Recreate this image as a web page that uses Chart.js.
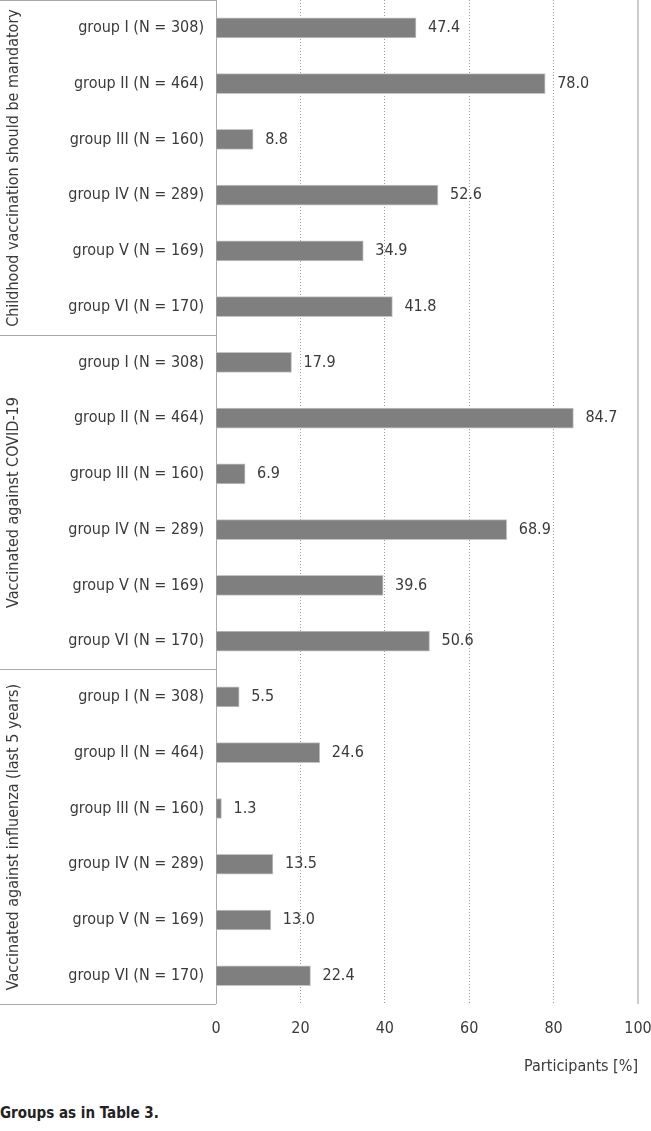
<!DOCTYPE html>
<html>
<head>
<meta charset="utf-8">
<script src="https://cdn.jsdelivr.net/npm/chart.js@4"></script>
<style>
  body { margin: 0; background: #fff; }
  #wrap { position: relative; width: 651px; height: 1131px; }
  #caption {
    position: absolute; left: 0; top: 1104px;
    font: bold 15px 'Liberation Sans Narrow', 'DejaVu Sans Condensed', sans-serif;
    color: #222;
  }
</style>
</head>
<body>
<div id="wrap">
  <canvas id="chartCanvas" width="651" height="1080"></canvas>
  <div id="caption">Groups as in Table 3.</div>
</div>
<script>
const FONT = "'Liberation Sans Narrow', 'DejaVu Sans Condensed', sans-serif";
const TEXT = "#3a3a3a";

const groupNames = ["group I (N = 308)", "group II (N = 464)", "group III (N = 160)",
                    "group IV (N = 289)", "group V (N = 169)", "group VI (N = 170)"];
const sections = ["Childhood vaccination should be mandatory",
                  "Vaccinated against COVID-19",
                  "Vaccinated against influenza (last 5 years)"];
const mandatory = [47.4, 78.0, 8.8, 52.6, 34.9, 41.8];
const covid = [17.9, 84.7, 6.9, 68.9, 39.6, 50.6];
const influenza = [5.5, 24.6, 1.3, 13.5, 13.0, 22.4];
const xTicks = [0, 20, 40, 60, 80, 100];

const labels = [...groupNames, ...groupNames, ...groupNames];
const values = [...mandatory, ...covid, ...influenza];

// value labels, section boxes and rotated section titles
const extras = {
    id: "extras",
    afterDatasetsDraw(chart) {
        const ctx = chart.ctx;
        const area = chart.chartArea;
        const y = chart.scales.y;
        const meta = chart.getDatasetMeta(0);

        ctx.save();
        ctx.font = "16px " + FONT;
        ctx.fillStyle = TEXT;
        ctx.textAlign = "left";
        ctx.textBaseline = "middle";
        meta.data.forEach((bar, i) => {
            ctx.fillText(values[i].toFixed(1), bar.x + 12, bar.y);
        });

        // section separators
        ctx.strokeStyle = "#aaa";
        ctx.lineWidth = 1;
        const n = groupNames.length;
        const edges = [Math.round(area.top) + 0.5];
        for (let s = 1; s < sections.length; s++) {
            const yy = (y.getPixelForValue(s * n - 1) + y.getPixelForValue(s * n)) / 2;
            edges.push(Math.round(yy) + 0.5);
        }
        edges.push(Math.round(area.bottom) + 0.5);
        edges.forEach(e => {
            ctx.beginPath();
            ctx.moveTo(0, e);
            ctx.lineTo(area.left, e);
            ctx.stroke();
        });

        // section titles
        ctx.font = "16px " + FONT;
        ctx.textAlign = "center";
        sections.forEach((t, s) => {
            const mid = (edges[s] + edges[s + 1]) / 2;
            ctx.save();
            ctx.translate(14, mid);
            ctx.rotate(-Math.PI / 2);
            ctx.fillText(t, 0, 0);
            ctx.restore();
        });
        ctx.restore();
    }
};

const chart = new Chart(document.getElementById("chartCanvas").getContext("2d"), {
    type: "bar",
    data: {
        labels: labels,
        datasets: [{
            data: values,
            backgroundColor: "#7f7f7f",
            borderColor: "#c4c4c4",
            borderWidth: 1,
            barThickness: 20
        }]
    },
    options: {
        indexAxis: "y",
        responsive: false,
        animation: false,
        layout: { padding: { top: 0, right: 13 } },
        plugins: {
            legend: { display: false },
            tooltip: { enabled: false }
        },
        scales: {
            y: {
                grid: { display: false, drawTicks: false },
                border: { color: "#aaa", width: 1 },
                ticks: { font: { family: FONT, size: 16 }, color: TEXT, padding: 12 },
                afterFit(scale) {
                    scale.width = 216;
                    scale.paddingTop = 0;
                    scale.paddingBottom = 0;
                }
            },
            x: {
                min: 0,
                max: 100,
                afterBuildTicks(scale) { scale.ticks = xTicks.map(v => ({ value: v })); },
                afterFit(scale) {
                    scale.paddingLeft = 0;
                    scale.paddingRight = 0;
                },
                grid: {
                    drawTicks: false,
                    color: c => c.tick.value === 0 ? "transparent" : (c.tick.value === 100 ? "#ccc" : "#999"),
                    lineWidth: c => c.tick.value === 100 ? 2 : 1
                },
                border: {
                    display: false,
                    dash: c => (c.tick && c.tick.value === 100) ? [] : [1, 2]
                },
                ticks: { font: { family: FONT, size: 16 }, color: TEXT, padding: 16 },
                title: {
                    display: true,
                    text: "Participants [%]",
                    align: "end",
                    color: TEXT,
                    font: { family: FONT, size: 16 },
                    padding: { top: 2 }
                }
            }
        }
    },
    plugins: [extras]
});
</script>
</body>
</html>
